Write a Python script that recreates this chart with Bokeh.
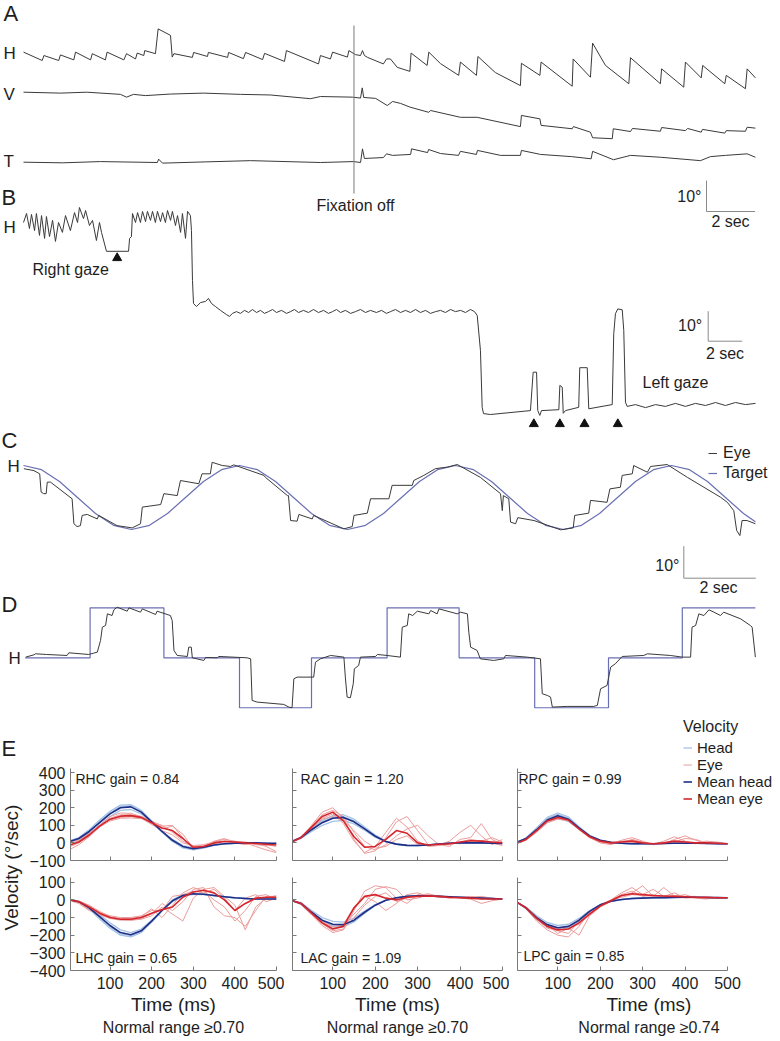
import math
from bokeh.plotting import figure
from bokeh.models import Range1d, Label, Legend, LegendItem, FixedTicker, Title, CustomLabelingPolicy
from bokeh.layouts import column, row
from bokeh.core.properties import value
from bokeh.embed import file_html
from bokeh.resources import INLINE

FONT = "Liberation Sans"
TXT = "#1e1e1e"
INK = "#3a3a3a"
BAR = "#8a8a8a"
TARGET_BLUE = "#6a6fb4"
HEAD_LIGHT = "#a4c2e6"
EYE_LIGHT = "#eb9c9c"
HEAD_MEAN = "#1f2e86"
EYE_MEAN = "#d4262c"

# ------------------------------------------------------------------ data
# Panel A: spontaneous nystagmus, (time s, position deg) per channel
A_H = [(0.0, 2.7), (0.77, 0.0), (0.84, 1.6), (1.45, 0.0), (1.52, 1.8), (2.07, 0.2), (2.14, 2.7),
       (2.76, 0.2), (2.83, 2.2), (3.37, 0.2), (3.44, 2.7), (4.13, 0.2), (4.24, 2.2), (4.61, 0.5),
       (4.68, 2.4), (4.95, 1.6), (4.99, 3.2), (5.43, 2.2), (5.54, 10.2), (6.05, 8.1), (6.12, 1.1),
       (6.19, 2.2), (6.95, 1.0), (7.0, 2.6), (7.57, 1.3), (7.61, 2.6), (8.40, 1.0), (8.44, 2.6),
       (9.05, 0.6), (9.14, 2.6), (9.84, 0.3), (9.92, 2.3), (10.74, -0.3), (10.82, 3.2), (12.14, -1.1),
       (12.22, 1.6), (12.63, 0.5), (12.72, 2.7), (13.33, 1.1), (13.39, 3.2), (13.66, 1.9), (13.87, 1.6),
       (13.95, 3.2), (14.03, 1.6), (14.16, 1.0), (14.81, -1.1), (14.94, 0.5), (15.10, 0.5), (15.38, -2.2),
       (15.90, -3.5), (15.95, 2.4), (16.61, -1.6), (16.68, 2.7), (17.16, -1.0), (17.91, -4.8), (17.98, -0.5),
       (18.64, -4.8), (18.70, 1.3), (19.42, -3.9), (20.45, -8.1), (20.49, -0.9), (21.25, -4.8), (21.30, -0.5),
       (22.58, -8.3), (22.62, 0.5), (23.33, -5.4), (23.42, 5.6), (23.95, -1.6), (24.91, -7.5), (24.98, 0.9),
       (26.21, -7.5), (26.26, -2.7), (27.17, -8.6), (27.24, -0.5), (27.89, -5.6), (27.95, -1.6), (28.86, -7.5),
       (28.92, -4.8), (29.71, -9.1), (29.78, -2.7), (30.12, -5.6)]
A_V = [(0, 0.1), (1.52, -0.2), (2.6, 0.1), (3.99, -0.6), (4.24, -1.5), (4.53, -0.6), (5.02, -1.0), (6.05, -0.5),
       (7.4, -0.2), (8.93, -0.6), (10.16, -0.8), (11.81, -2.0), (12.22, -1.3), (13.54, -1.5), (13.87, -1.8),
       (13.94, 1.5), (14.0, -1.6), (14.49, -1.9), (14.97, -4.2), (15.19, -2.9), (15.51, -3.5), (15.90, -4.7),
       (16.68, -6.4), (16.75, -5.8), (17.98, -8.0), (18.67, -8.0), (20.45, -11.0), (20.49, -7.4), (21.25, -8.5),
       (21.30, -10.6), (22.58, -11.7), (22.63, -11.0), (23.33, -12.8), (23.42, -14.6), (24.23, -14.9),
       (24.27, -11.7), (24.98, -12.6), (25.06, -11.6), (26.21, -12.5), (26.26, -11.3), (27.24, -12.3),
       (27.33, -11.6), (27.89, -12.8), (27.94, -11.9), (28.86, -13.1), (28.92, -12.3), (29.71, -12.5),
       (29.78, -11.2), (30.12, -11.5)]
A_T = [(0, 0), (1.6, -0.2), (3.17, 0.2), (5.51, -0.1), (5.56, 1.0), (5.72, -0.3), (7.5, 0.1), (9.34, 0.5),
       (12.22, -0.1), (13.58, 0.2), (13.87, -0.1), (13.95, 4.3), (14.03, 1.2), (14.81, 1.5), (14.94, 2.7),
       (15.19, 2.2), (15.93, 2.5), (15.97, 4.3), (16.63, 3.1), (16.67, 4.1), (17.16, 2.8), (17.90, 2.2),
       (17.98, 3.5), (18.64, 2.5), (18.68, 3.8), (19.63, 2.2), (20.45, 2.2), (20.49, 3.8), (21.28, 2.5),
       (22.55, 1.8), (23.36, 1.1), (23.42, 3.5), (24.28, 0.8), (24.98, 2.2), (26.21, 1.6), (27.86, 0.5),
       (28.27, 1.8), (28.89, 2.2), (29.78, 2.7), (30.12, 1.6)]
FIXATION_OFF_S = 13.6

# Panel B: gaze-evoked nystagmus, horizontal (time s, deg)
B_H = [(0, 6.0), (0.18, 9.0), (0.35, 4.0), (0.47, 8.7), (0.65, 3.3), (0.76, 9.0), (0.94, 1.7), (1.06, 8.3),
       (1.24, 0.7), (1.35, 8.0), (1.53, 1.3), (1.71, 6.7), (1.88, -0.3), (2.06, 6.0), (2.29, 2.7), (2.47, 8.3),
       (2.76, 3.3), (3.0, 9.3), (3.18, 6.0), (3.29, 11.0), (3.53, 7.3), (3.65, 10.0), (3.88, 5.0), (4.06, 6.7),
       (4.29, 0.0), (4.47, 6.0), (4.59, 2.7), (4.88, -3.6), (6.18, -3.6), (6.24, 0.7), (6.35, 1.3), (6.41, 9.0),
       (6.59, 6.0), (6.71, 9.3), (6.88, 6.0), (7.0, 9.7), (7.18, 6.3), (7.29, 9.7), (7.47, 6.7), (7.59, 9.7),
       (7.76, 6.0), (7.88, 9.7), (8.06, 6.3), (8.18, 9.3), (8.35, 6.0), (8.47, 10.0), (8.65, 6.7), (8.76, 9.7),
       (8.94, 5.0), (9.06, 8.3), (9.24, 2.7), (9.35, 9.0), (9.53, 0.7), (9.65, 9.7), (9.82, 8.3), (9.88, 3.3),
       (9.94, -13.3), (10.0, -21.0), (10.18, -22.0), (10.41, -20.7), (10.71, -20.3), (10.88, -19.3),
       (11.06, -21.0), (11.29, -22.0), (11.59, -23.3), (11.94, -24.7), (12.12, -25.3), (12.29, -24.3),
       (12.53, -23.7), (12.76, -24.3), (13.0, -23.3), (13.24, -24.0), (13.47, -23.0), (13.71, -24.0),
       (13.94, -23.3), (14.18, -24.3), (14.41, -23.7), (14.65, -23.0), (14.88, -24.0), (15.18, -23.3),
       (15.47, -24.3), (15.71, -23.7), (15.94, -23.0), (16.18, -24.0), (16.47, -23.3), (16.76, -24.0),
       (17.06, -23.0), (17.35, -24.0), (17.65, -23.3), (17.94, -24.3), (18.18, -23.7), (18.41, -23.0),
       (18.65, -24.0), (18.94, -23.3), (19.24, -24.3), (19.53, -23.7), (19.82, -23.0), (20.12, -24.0),
       (20.41, -23.3), (20.76, -24.0), (21.06, -23.3), (21.35, -24.3), (21.59, -23.7), (21.88, -23.0),
       (22.18, -24.0), (22.47, -23.3), (22.76, -24.0), (23.06, -23.0), (23.35, -24.0), (23.65, -23.3),
       (23.94, -24.3), (24.24, -23.7), (24.53, -23.3), (24.82, -24.0), (25.12, -23.0), (25.41, -23.7),
       (25.71, -23.3), (26.0, -24.0), (26.29, -23.0), (26.53, -23.7), (26.69, -25.0), (26.88, -36.7),
       (26.98, -55.6), (27.06, -57.7), (27.47, -58.0), (29.82, -56.7), (29.98, -43.9), (30.18, -43.9),
       (30.25, -56.7), (30.37, -58.3), (30.47, -56.7), (31.49, -56.4), (31.55, -48.3), (31.69, -48.9),
       (31.75, -57.6), (31.88, -56.7), (32.66, -55.6), (32.72, -42.4), (33.16, -42.4), (33.25, -56.1),
       (34.63, -54.7), (34.72, -31.1), (34.82, -24.4), (34.96, -22.8), (35.22, -23.1), (35.31, -30.0),
       (35.41, -53.9), (35.51, -55.3), (36.0, -54.7), (36.59, -55.7), (37.18, -54.7), (37.76, -55.3),
       (38.35, -54.3), (38.94, -55.3), (39.53, -54.3), (40.12, -55.0), (40.71, -54.0), (41.29, -55.0),
       (41.88, -54.0), (42.47, -54.7), (43.06, -54.3)]
B_RIGHT_GAZE_S = [5.51]
B_LEFT_GAZE_S = [30.02, 31.55, 33.0, 34.96]

# Panel C: smooth pursuit (time s, deg)
C_EYE = [(0.01, 9.0), (0.29, 8.4), (0.45, 7.4), (0.49, 1.7), (0.56, 1.2), (0.63, 1.2), (0.66, 4.8), (0.75, 4.8),
         (1.35, -0.4), (1.40, -8.2), (1.49, -9.1), (1.58, -8.8), (1.63, -5.6), (1.77, -5.3), (2.05, -6.7),
         (2.09, -5.6), (2.60, -8.8), (3.02, -9.5), (3.25, -8.2), (3.30, -3.0), (3.81, -2.2), (3.90, 1.2),
         (4.27, 0.6), (4.36, 5.3), (4.87, 4.3), (4.96, 7.4), (5.19, 7.4), (5.24, 11.0), (5.52, 10.0), (5.75, 9.7),
         (5.84, 10.2), (6.68, 6.9), (6.72, 6.3), (7.33, 0.6), (7.36, 0.6), (7.42, -7.2), (7.60, -7.4),
         (7.65, -5.3), (8.02, -6.7), (8.06, -5.6), (8.90, -9.8), (9.13, -9.1), (9.18, -5.6), (9.55, -4.9),
         (9.64, -0.4), (10.15, -0.4), (10.24, 3.8), (10.80, 3.8), (10.84, 5.3), (11.12, 6.9), (11.44, 9.0),
         (11.77, 9.5), (12.05, 10.3), (12.69, 6.3), (13.25, 1.2), (13.30, -4.1), (13.33, 0.6), (13.48, -0.4),
         (13.53, -7.7), (13.67, -8.2), (13.73, -6.3), (14.18, -7.2), (14.92, -10.1), (15.27, -9.5),
         (15.31, -5.6), (15.70, -4.9), (15.75, -0.9), (16.21, -1.5), (16.29, 2.7), (16.58, 3.2), (16.63, 6.9),
         (16.91, 7.4), (16.95, 10.0), (17.33, 7.9), (17.42, 9.7), (17.88, 10.3), (18.44, 6.3), (19.36, 0.1),
         (19.55, -1.5), (19.73, -4.1), (19.81, -10.3), (19.90, -11.9), (19.96, -7.2), (20.10, -7.2), (20.33, -8.2)]
C_TARGET = [(0.0, 10), (0.5, 8.7), (1.0, 5), (1.5, 0), (2.0, -5), (2.5, -8.7), (3.0, -10), (3.5, -8.7),
            (4.0, -5), (4.5, 0), (5.0, 5), (5.5, 8.7), (6.0, 10), (6.5, 8.7), (7.0, 5), (7.5, 0), (8.0, -5),
            (8.5, -8.7), (9.0, -10), (9.5, -8.7), (10.0, -5), (10.5, 0), (11.0, 5), (11.5, 8.7), (12.0, 10),
            (12.5, 8.7), (13.0, 5), (13.5, 0), (14.0, -5), (14.5, -8.7), (15.0, -10), (15.5, -8.7), (16.0, -5),
            (16.5, 0), (17.0, 5), (17.5, 8.7), (18.0, 10), (18.5, 8.7), (19.0, 5), (19.5, 0), (20.0, -5),
            (20.33, -7.6)]

# Panel D: saccades to stepping target (time s, deg)
D_EYE = [(0.06, 0.2), (0.29, 0.9), (0.33, 1.2), (0.64, 1.0), (1.21, 0.7), (1.26, 1.5), (1.81, 1.0), (1.95, 1.4),
         (2.05, 1.7), (2.14, 5.2), (2.19, 9.2), (2.28, 9.7), (2.33, 13.2), (2.46, 12.7), (2.51, 14.4), (2.60, 15.2),
         (2.88, 14.0), (2.93, 15.0), (3.25, 13.7), (3.30, 14.7), (3.67, 13.0), (3.71, 14.0), (4.08, 12.7),
         (4.13, 11.2), (4.18, 2.2), (4.27, 0.7), (4.55, 0.4), (4.59, 3.2), (4.66, 3.2), (4.69, 0.0), (5.01, -0.8),
         (5.06, 0.1), (5.38, 0.0), (5.43, 0.4), (6.21, 0.0), (6.31, -0.3), (6.35, -12.8), (6.49, -13.3),
         (7.23, -14.0), (7.37, -14.8), (7.46, -15.0), (7.51, -6.3), (7.60, -5.8), (8.06, -5.8), (8.11, -1.3),
         (8.25, -0.3), (8.53, 0.7), (8.90, 0.2), (8.94, -5.8), (8.99, -11.8), (9.08, -12.0), (9.16, -7.8),
         (9.19, -3.3), (9.31, -2.3), (9.36, 0.2), (9.78, 0.4), (9.83, 1.0), (10.10, 0.7), (10.47, 0.2),
         (10.52, 9.2), (10.66, 9.7), (10.70, 13.2), (10.81, 12.7), (10.94, 14.0), (11.26, 13.2), (11.31, 14.2),
         (11.49, 13.2), (11.54, 14.7), (12.05, 13.2), (12.14, 13.7), (12.33, 13.2), (12.37, 7.7), (12.42, 3.2),
         (12.60, 2.2), (12.69, -0.3), (13.06, -0.8), (13.34, -0.3), (13.39, 0.7), (13.99, 0.2), (14.36, -0.3),
         (14.41, -10.8), (14.55, -11.3), (14.64, -11.8), (14.69, -14.8), (15.10, -14.6), (15.84, -14.6),
         (15.94, -14.3), (16.03, -9.3), (16.21, -8.3), (16.31, -2.8), (16.44, -1.8), (16.63, 0.4), (17.23, 0.7),
         (17.33, 1.2), (17.97, 0.7), (18.30, 0.2), (18.53, 0.2), (18.57, 9.2), (18.67, 9.7), (18.76, 13.2),
         (18.90, 12.7), (19.04, 14.4), (19.18, 13.7), (19.36, 12.7), (19.45, 13.7), (19.92, 11.7), (20.19, 9.7),
         (20.24, 9.2), (20.33, 0.2)]
D_TARGET_T = [0.05, 1.85, 3.9, 6.0, 8.0, 10.1, 12.1, 14.2, 16.25, 18.3, 20.33]
D_TARGET = [0, 15, 0, -15, 0, 15, 0, -15, 0, 15, 15]

# Panel E: head impulse velocities (°/s) sampled at VEL_T (ms)
VEL_T = [5, 25, 50, 75, 100, 125, 150, 175, 200, 225, 250, 275, 300, 325, 350, 375, 400, 425, 450, 475, 500]

RHC_HEAD_MEAN = [10, 25, 65, 115, 165, 200, 205, 175, 120, 65, 15, -20, -33, -25, -12, -5, -2, 0, 0, -2, -3]
RHC_EYE_MEAN = [-10, 5, 45, 95, 135, 152, 155, 145, 115, 85, 70, 25, -25, -20, 0, 8, 5, 0, -3, -8, -12]
RHC_HEAD = [[15, 30, 75, 130, 180, 215, 218, 185, 125, 65, 10, -28, -40, -30, -14, -6, -2, 0, 0, -2, -3],
            [5, 20, 55, 100, 150, 185, 190, 165, 115, 65, 20, -15, -28, -22, -10, -4, -2, 0, 0, -2, -3],
            [10, 25, 68, 120, 172, 207, 210, 178, 118, 60, 8, -25, -36, -26, -12, -5, -2, 0, 0, -2, -3]]
RHC_EYE = [[-20, 0, 40, 100, 150, 170, 168, 150, 110, 80, 95, 50, -30, -25, 5, 20, 10, 0, -20, -40, -55],
           [0, 10, 50, 90, 125, 140, 142, 138, 120, 100, 60, 10, -20, -15, -5, 10, 5, 0, -5, -10, -20],
           [-35, -10, 35, 90, 140, 160, 160, 150, 125, 95, 100, 30, -35, -20, 10, 25, 0, -10, 0, -20, -50],
           [10, 15, 55, 100, 130, 145, 150, 140, 105, 70, 45, 0, -15, -10, 5, 10, 5, 5, -10, -15, 5]]

LHC_HEAD_MEAN = [0, -10, -45, -95, -145, -185, -197, -175, -120, -60, -5, 25, 35, 32, 25, 18, 12, 8, 5, 5, 5]
LHC_EYE_MEAN = [0, -10, -40, -75, -100, -110, -110, -100, -75, -55, -40, 15, 45, 55, 40, 0, -60, -20, 10, 15, 15]
LHC_HEAD = [[0, -12, -52, -108, -160, -200, -210, -185, -125, -60, 0, 30, 38, 33, 25, 17, 12, 8, 5, 5, 5],
            [0, -8, -40, -85, -130, -170, -185, -165, -115, -60, -10, 20, 32, 30, 24, 18, 12, 8, 5, 5, 5],
            [0, -10, -47, -100, -152, -192, -203, -180, -122, -58, -3, 27, 36, 32, 25, 18, 12, 8, 5, 5, 5]]
LHC_EYE = [[0, -15, -55, -85, -105, -115, -115, -105, -80, -20, -60, -10, 60, 70, -40, -90, -100, -150, -60, 20, 20],
           [0, -5, -30, -65, -95, -105, -105, -95, -50, -100, -30, 40, 70, 50, 0, -40, -120, -60, 20, 30, 0],
           [-5, -20, -60, -80, -100, -110, -115, -110, -90, -40, -80, -120, 10, 60, 70, 20, -30, -170, -40, 10, 25],
           [5, -10, -35, -70, -90, -100, -100, -90, -60, -60, 20, 30, 50, 40, 60, 10, -60, 10, 30, -10, 10]]

RAC_HEAD_MEAN = [10, 30, 75, 115, 140, 145, 120, 80, 38, 8, -7, -14, -15, -12, -6, -2, 0, 0, 0, -2, -3]
RAC_EYE_MEAN = [8, 30, 90, 150, 175, 125, 35, -25, -20, 20, 70, 55, 0, -12, -8, -5, 5, 12, 10, 5, 0]
RAC_HEAD = [[12, 35, 85, 128, 155, 160, 135, 90, 45, 10, -8, -15, -16, -12, -6, -2, 0, 0, 0, -2, -3],
            [8, 25, 65, 100, 122, 128, 108, 72, 32, 5, -8, -14, -15, -12, -6, -2, 0, 0, 0, -2, -3],
            [10, 30, 78, 120, 145, 150, 125, 82, 40, 8, -6, -13, -14, -11, -6, -2, 0, 0, 0, -2, -3]]
RAC_EYE = [[5, 30, 100, 175, 200, 140, 20, -60, -45, 30, 120, 150, 70, -10, -15, 10, 60, 100, 40, -10, 20],
           [10, 35, 95, 160, 185, 150, 60, -20, -40, -10, 40, 80, 100, 40, -10, -20, 20, 30, 110, 20, -10],
           [5, 25, 80, 140, 165, 110, 10, -55, -20, 60, 140, 90, 10, -20, -15, 0, -5, 15, 10, 0, -15],
           [10, 30, 85, 135, 150, 130, 70, 10, -30, -20, 20, 40, -10, -15, -5, -10, 5, 20, 10, 30, 5]]

LAC_HEAD_MEAN = [-5, -20, -70, -115, -138, -140, -115, -70, -30, -2, 12, 20, 23, 22, 20, 18, 15, 12, 10, 8, 5]
LAC_EYE_MEAN = [-5, -20, -75, -130, -165, -150, -45, 20, 30, 10, 0, 15, 20, 22, 20, 15, 12, 10, 5, 5, 5]
LAC_HEAD = [[-5, -25, -80, -128, -152, -152, -125, -75, -32, -2, 12, 20, 23, 22, 20, 18, 15, 12, 10, 8, 5],
            [-5, -15, -60, -100, -122, -126, -103, -63, -27, -2, 12, 20, 23, 22, 20, 18, 15, 12, 10, 8, 5],
            [-5, -22, -72, -118, -145, -146, -120, -72, -30, -2, 12, 20, 23, 22, 20, 18, 15, 12, 10, 8, 5]]
LAC_EYE = [[-5, -25, -85, -145, -185, -170, -60, 50, 80, 70, 10, -20, 30, 25, 20, 10, 15, 5, -20, -5, 5],
           [-5, -20, -70, -125, -160, -150, -80, -20, 60, 75, 60, 0, 10, 30, 15, 20, 10, 15, 20, 10, 5],
           [-5, -15, -65, -120, -150, -140, -40, 20, -10, -60, -20, 30, 40, 20, 25, 15, 10, 5, 10, 5, 5],
           [-5, -20, -80, -135, -175, -165, -100, -30, 20, 40, -10, 10, 25, 35, 20, 10, 15, 20, 10, 5, 5]]

RPC_HEAD_MEAN = [5, 25, 75, 130, 155, 135, 85, 40, 15, 3, -2, -5, -5, -5, -3, -2, -2, -2, -3, -4, -5]
RPC_EYE_MEAN = [0, 20, 70, 125, 145, 130, 80, 35, 10, 0, 5, 10, 0, -5, 0, 10, 5, 0, 0, -2, -5]
RPC_HEAD = [[5, 28, 85, 145, 170, 148, 92, 43, 16, 3, -2, -5, -5, -5, -3, -2, -2, -2, -3, -4, -5],
            [5, 22, 65, 115, 140, 122, 78, 37, 14, 3, -2, -5, -5, -5, -3, -2, -2, -2, -3, -4, -5],
            [5, 26, 80, 138, 162, 140, 88, 40, 15, 3, -2, -5, -5, -5, -3, -2, -2, -2, -3, -4, -5]]
RPC_EYE = [[0, 20, 70, 130, 150, 130, 75, 30, 5, -5, 15, 30, 10, -10, -5, 20, 40, 15, -5, 0, -5],
           [0, 15, 60, 115, 135, 125, 85, 40, 15, 5, 0, 20, 5, -10, 10, 35, 10, -5, 5, -5, -5],
           [0, 20, 75, 130, 150, 128, 78, 30, 0, -10, 10, 15, 0, -5, 0, 5, 25, 20, 0, -5, -5],
           [0, 18, 65, 120, 140, 132, 80, 38, 12, 0, 5, 5, -5, -5, -5, 0, 5, 0, 10, 5, -5]]

LPC_HEAD_MEAN = [-15, -45, -100, -140, -158, -150, -115, -65, -28, -8, 2, 8, 10, 12, 13, 14, 15, 15, 14, 13, 12]
LPC_EYE_MEAN = [-15, -45, -105, -150, -170, -165, -130, -80, -35, -5, 25, 35, 30, 25, 22, 20, 18, 15, 14, 12, 12]
LPC_HEAD = [[-15, -50, -110, -152, -170, -162, -124, -70, -30, -8, 2, 8, 10, 12, 13, 14, 15, 15, 14, 13, 12],
            [-15, -40, -90, -128, -145, -138, -105, -60, -26, -8, 2, 8, 10, 12, 13, 14, 15, 15, 14, 13, 12],
            [-15, -46, -102, -145, -162, -155, -118, -67, -28, -8, 2, 8, 10, 12, 13, 14, 15, 15, 14, 13, 12]]
LPC_EYE = [[-15, -50, -120, -170, -200, -210, -150, -70, -30, 0, 40, 70, 30, 60, 20, 40, 10, 15, 20, 10, 12],
           [-15, -40, -95, -140, -190, -160, -200, -90, -40, -10, 20, 40, 80, 20, 70, 20, 30, 10, 5, 15, 12],
           [-15, -45, -110, -160, -175, -190, -120, -75, -35, -5, 30, 50, 20, 30, 15, 25, 20, 20, 15, 10, 12],
           [-15, -40, -100, -145, -160, -150, -140, -85, -30, 0, 15, 30, 25, 20, 20, 15, 15, 10, 10, 12, 12]]

CANALS = [["RHC", "RAC", "RPC"], ["LHC", "LAC", "LPC"]]
GAINS = [["0.84", "1.20", "0.99"], ["0.65", "1.09", "0.85"]]
NORMAL_RANGE = ["0.70", "0.70", "0.74"]
VEL_TICKS_TOP = [-100, 0, 100, 200, 300, 400]
VEL_TICKS_BOTTOM = [-400, -300, -200, -100, 0, 100]
TIME_TICKS = [100, 200, 300, 400, 500]
TIME_LIMITS = (5, 500)
VEL_LIMITS = [(-100, 423), (-400, 127)]

E_SERIES = {
    "RHC": (RHC_HEAD, RHC_EYE, RHC_HEAD_MEAN, RHC_EYE_MEAN),
    "LHC": (LHC_HEAD, LHC_EYE, LHC_HEAD_MEAN, LHC_EYE_MEAN),
    "RAC": (RAC_HEAD, RAC_EYE, RAC_HEAD_MEAN, RAC_EYE_MEAN),
    "LAC": (LAC_HEAD, LAC_EYE, LAC_HEAD_MEAN, LAC_EYE_MEAN),
    "RPC": (RPC_HEAD, RPC_EYE, RPC_HEAD_MEAN, RPC_EYE_MEAN),
    "LPC": (LPC_HEAD, LPC_EYE, LPC_HEAD_MEAN, LPC_EYE_MEAN),
}

# ------------------------------------------------------------------ layout (page pixels)
W = 780
TOP_H = 715
E_H = 325


def unzip(pairs):
    return [a for a, _ in pairs], [b for _, b in pairs]


def label(p, x, y, text, size="16px", align="left", angle=0.0, units="data"):
    p.add_layout(Label(x=x, y=y, x_units=units, y_units=units, text=text, text_font=FONT,
                       text_font_size=size, text_align=align, text_baseline="middle",
                       text_color=TXT, angle=angle))


# ---- top figure: panels A-D in page pixel coordinates + per-panel data ranges
top = figure(width=W, height=TOP_H, x_range=Range1d(0, W), y_range=Range1d(TOP_H, 0),
             output_backend="svg", toolbar_location=None, min_border=0,
             x_axis_location=None, y_axis_location=None, outline_line_color=None)
top.grid.visible = False

XMAP = {"A": (23, 24.3), "B": (23, 17.0), "C": (23, 36.0), "D": (23, 36.0)}
YMAP = {"AH": (60, 3.1), "AV": (92, 3.1), "AT": (161.7, 3.1), "B": (240, 3.0), "C": (497, 3.2), "D": (657.3, 3.33)}
top.extra_x_ranges = {k: Range1d((0 - x0) / sx, (W - x0) / sx) for k, (x0, sx) in XMAP.items()}
top.extra_y_ranges = {k: Range1d((y0 - TOP_H) / sy, y0 / sy) for k, (y0, sy) in YMAP.items()}


def px_t(px, k):
    x0, sx = XMAP[k]
    return (px - x0) / sx


def px_v(py, k):
    y0, sy = YMAP[k]
    return (y0 - py) / sy


def trace(pairs, xk, yk, color=INK, width=1.0):
    t, v = unzip(pairs)
    return top.line(t, v, x_range_name=xk, y_range_name=yk, line_color=color, line_width=width,
                    line_join="round")


def scale_bar(xk, yk, cx, cy, sec=2, deg=10):
    t0, v0 = px_t(cx, xk), px_v(cy, yk)
    top.line([t0, t0, t0 + sec], [v0 + deg, v0, v0], x_range_name=xk, y_range_name=yk,
             line_color=BAR, line_width=1)


# Panel A
trace(A_H, "A", "AH")
trace(A_V, "A", "AV")
trace(A_T, "A", "AT")
top.segment(x0=[FIXATION_OFF_S], y0=[25], x1=[FIXATION_OFF_S], y1=[193], x_range_name="A",
            line_color="#7a7a7a", line_width=1)
scale_bar("A", "AH", 706, 211)
label(top, 3, 12.5, "A", "22px")
label(top, 3, 52.5, "H", "17px")
label(top, 3, 94, "V", "17px")
label(top, 3, 161, "T", "17px")
label(top, 355, 205, "Fixation off", align="center")
label(top, 701, 196, "10°", align="right")
label(top, 730, 221, "2 sec", align="center")

# Panel B
trace(B_H, "B", "B")
top.scatter(x=B_RIGHT_GAZE_S, y=[257.5] * len(B_RIGHT_GAZE_S), x_range_name="B", marker="triangle",
            size=9, color="#111111")
top.scatter(x=B_LEFT_GAZE_S, y=[423.5] * len(B_LEFT_GAZE_S), x_range_name="B", marker="triangle",
            size=9, color="#111111")
scale_bar("B", "B", 707.7, 340.7)
label(top, 1, 196.5, "B", "22px")
label(top, 3, 226.5, "H", "17px")
label(top, 32, 268.5, "Right gaze")
label(top, 642, 381.5, "Left gaze")
label(top, 701.7, 325, "10°", align="right")
label(top, 724.5, 352.5, "2 sec", align="center")

# Panel C
r_tgt = trace(C_TARGET, "C", "C", TARGET_BLUE, 1.2)
r_eye = trace(C_EYE, "C", "C")
scale_bar("C", "C", 683.3, 577.7)
label(top, 1, 440, "C", "22px")
label(top, 7, 466, "H", "17px")
label(top, 679, 564.5, "10°", align="right")
label(top, 718, 587, "2 sec", align="center")
legC = Legend(items=[LegendItem(label=value("Eye"), renderers=[r_eye]),
                     LegendItem(label=value("Target"), renderers=[r_tgt])],
              location=(708, TOP_H - 482.5), orientation="vertical",
              label_text_font=FONT, label_text_font_size="16px", label_text_color=TXT,
              label_height=20, glyph_height=20, glyph_width=9, label_standoff=6,
              spacing=0, padding=0, margin=0, border_line_color=None, background_fill_alpha=0)
top.add_layout(legC)

# Panel D
top.step(D_TARGET_T, D_TARGET, mode="after", x_range_name="D", y_range_name="D",
         line_color=TARGET_BLUE, line_width=1.2)
trace(D_EYE, "D", "D")
label(top, 1, 603.5, "D", "22px")
label(top, 8, 657.5, "H", "17px")

# ---- panel E
side = figure(width=26, height=E_H, x_range=Range1d(0, 26), y_range=Range1d(TOP_H + E_H, TOP_H),
              output_backend="svg", toolbar_location=None, min_border=0,
              x_axis_location=None, y_axis_location=None, outline_line_color=None)
side.grid.visible = False
label(side, 1, 747.5, "E", "22px")
label(side, 11, 867, "Velocity (°/sec)", "19px", align="center", angle=math.pi / 2)

# axes boxes and canvases in page pixels
COL_BOX = [(68, 276), (292, 502), (517, 727)]
COL_CANVAS = [(26, 284), (284, 509), (509, 780)]
ROW_BOX = [(768, 860), (877, 970)]
ROW_CANVAS = [(715, 868), (868, 1040)]
GAIN_POS = [[(5, 82), (8, 82), (1, 82)], [(5, 13), (8, 13), (6, 15)]]
TIME_LABEL_CX = [177, 408, 632]
NORM_LABEL_CX = [175, 407, 638]

NO_LABELS = CustomLabelingPolicy(code="for (const i of indices) { indices.unset(i) }\nreturn indices")


def hide_tick_labels(ax):
    ax.major_label_policy = NO_LABELS
    ax.major_label_text_font_size = "0px"
    ax.major_label_standoff = 0


def span_range(d0, d1, a0, a1, f0, f1):
    s = (d1 - d0) / (a1 - a0)
    return Range1d(d0 - (a0 - f0) * s, d1 + (f1 - a1) * s)


col_layouts = []
for ci in range(3):
    figs = []
    for ri in range(2):
        bl, br = COL_BOX[ci]
        bt, bb = ROW_BOX[ri]
        cl, cr = COL_CANVAS[ci]
        ct, cb = ROW_CANVAS[ri]
        # the right-hand panels' frames reach the page edge so the legend fits inside
        fr = cr if ci == 2 else br
        ft = ct if (ri == 0 and ci == 2) else bt
        fl, fb = bl, bb
        y0, y1 = VEL_LIMITS[ri]
        xr = span_range(TIME_LIMITS[0], TIME_LIMITS[1], bl, br, fl, fr)
        yr = span_range(y0, y1, -bb, -bt, -fb, -ft)
        f = figure(width=cr - cl, height=cb - ct, x_range=xr, y_range=yr,
                   output_backend="svg", toolbar_location=None,
                   min_border_left=fl - cl, min_border_right=cr - fr,
                   min_border_top=ft - ct, min_border_bottom=cb - fb, outline_line_color=None)
        f.grid.visible = False
        f.xaxis.ticker = FixedTicker(ticks=TIME_TICKS)
        f.yaxis.ticker = FixedTicker(ticks=VEL_TICKS_TOP if ri == 0 else VEL_TICKS_BOTTOM)
        f.xaxis.bounds = TIME_LIMITS
        f.yaxis.bounds = VEL_LIMITS[ri]
        for ax in f.axis:
            ax.major_tick_in = 4
            ax.major_tick_out = 0
            ax.minor_tick_line_color = None
            ax.axis_line_color = "#7a7a7a"
            ax.major_tick_line_color = "#7a7a7a"
            ax.major_label_text_font = FONT
            ax.major_label_text_font_size = "16px"
            ax.major_label_text_color = TXT
        if ri == 0:
            for ax in f.xaxis:
                hide_tick_labels(ax)
        else:
            f.xaxis.major_label_standoff = 6
            fcx = (fl + fr) / 2
            f.add_layout(Title(text="Time (ms)", align="center", offset=TIME_LABEL_CX[ci] - fcx,
                               text_font=FONT, text_font_size="19px", text_font_style="normal",
                               text_color=TXT, standoff=0), "below")
            f.add_layout(Title(text=f"Normal range ≥{NORMAL_RANGE[ci]}", align="center",
                               offset=NORM_LABEL_CX[ci] - fcx, text_font=FONT, text_font_size="16px",
                               text_font_style="normal", text_color=TXT, standoff=5), "below")
        if ci > 0:
            for ax in f.yaxis:
                hide_tick_labels(ax)
        else:
            f.yaxis.major_label_standoff = 5

        name = CANALS[ri][ci]
        heads, eyes, head_mean, eye_mean = E_SERIES[name]
        r_h = r_e = None
        for h in heads:
            r_h = f.line(VEL_T, h, line_color=HEAD_LIGHT, line_width=1.3, line_join="round")
        for e in eyes:
            r_e = f.line(VEL_T, e, line_color=EYE_LIGHT, line_width=1.0, line_join="round")
        r_hm = f.line(VEL_T, head_mean, line_color=HEAD_MEAN, line_width=1.6, line_join="round")
        r_em = f.line(VEL_T, eye_mean, line_color=EYE_MEAN, line_width=1.6, line_join="round")

        gx, gy = GAIN_POS[ri][ci]
        label(f, gx, gy + (bb - fb), f"{name} gain = {GAINS[ri][ci]}", "14px", units="screen")
        if ri == 0 and ci == 2:
            leg = Legend(items=[LegendItem(label=value("Head"), renderers=[r_h]),
                                LegendItem(label=value("Eye"), renderers=[r_e]),
                                LegendItem(label=value("Mean head"), renderers=[r_hm]),
                                LegendItem(label=value("Mean eye"), renderers=[r_em])],
                         location=(683 - fl, fb - 807), orientation="vertical",
                         title="Velocity", title_text_font=FONT, title_text_font_size="16px",
                         title_text_font_style="normal", title_text_color=TXT, title_standoff=3,
                         label_text_font=FONT, label_text_font_size="15px", label_text_color=TXT,
                         label_height=17, glyph_height=17, glyph_width=9, label_standoff=5,
                         spacing=0, padding=0, margin=0, border_line_color=None,
                         background_fill_alpha=0)
            f.add_layout(leg)
        figs.append(f)
    col_layouts.append(column(*figs))

layout = column(top, row(side, *col_layouts))

with open("out.html", "w") as fh:
    fh.write(file_html(layout, INLINE))
